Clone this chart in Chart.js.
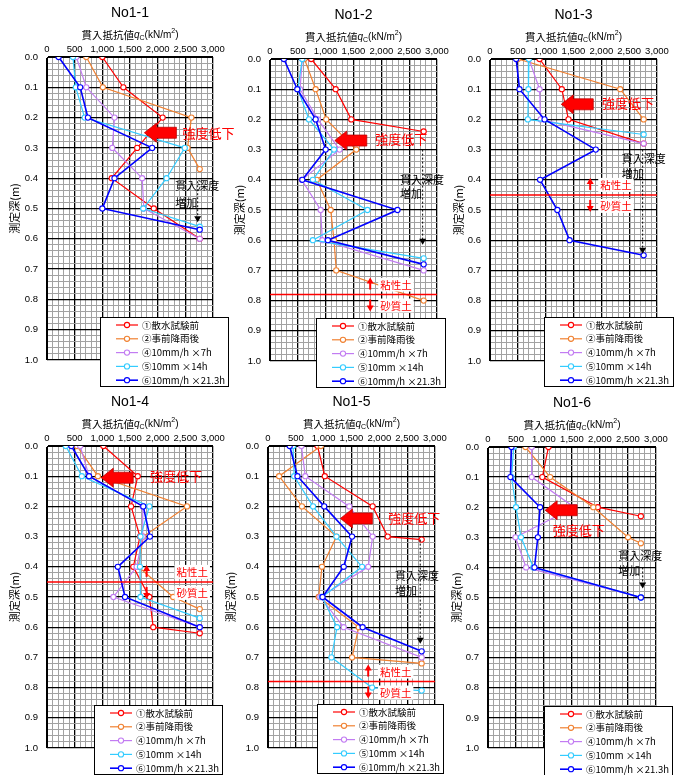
<!DOCTYPE html>
<html>
<head>
<meta charset="utf-8">
<script src="https://cdn.jsdelivr.net/npm/chart.js@4.4.0/dist/chart.umd.min.js"></script>
<style>
body { margin: 0; background: #fff; }
#wrap { position: relative; width: 680px; height: 775px; }
#wrap canvas { position: absolute; left: 0; top: 0; }
</style>
</head>
<body>
<div id="wrap">
<canvas id="c1" width="680" height="775"></canvas>
<canvas id="c2" width="680" height="775"></canvas>
<canvas id="c3" width="680" height="775"></canvas>
<canvas id="c4" width="680" height="775"></canvas>
<canvas id="c5" width="680" height="775"></canvas>
<canvas id="c6" width="680" height="775"></canvas>
</div>
<script>
// series names / colours
var seriesNames = ['①散水試験前', '②事前降雨後', '④10mm/h ×7h', '⑤10mm ×14h', '⑥10mm/h ×21.3h'];
var seriesColors = ['#ff0000', '#f08030', '#c27cf2', '#33ccff', '#0000ff'];

// [depth (m), qc (kN/m2)]
var n11_1 = [[0, 1000], [0.1, 1380], [0.2, 2090], [0.3, 1630], [0.4, 1170], [0.5, 1930], [0.6, 2760]];
var n11_2 = [[0, 710], [0.1, 1010], [0.2, 2610], [0.3, 2540], [0.37, 2760]];
var n11_4 = [[0, 530], [0.1, 710], [0.2, 1220], [0.3, 1180], [0.4, 1720], [0.5, 1750], [0.6, 2760]];
var n11_5 = [[0, 470], [0.1, 520], [0.2, 680], [0.3, 2490], [0.4, 2160], [0.5, 1740], [0.56, 2760]];
var n11_6 = [[0, 210], [0.1, 600], [0.2, 740], [0.3, 1900], [0.4, 1220], [0.5, 1000], [0.57, 2760]];

var n12_1 = [[0, 740], [0.1, 1180], [0.2, 1460], [0.24, 2760]];
var n12_2 = [[0, 620], [0.1, 820], [0.2, 1010], [0.3, 1550], [0.4, 840], [0.5, 1090], [0.6, 1150], [0.7, 1190], [0.8, 2760]];
var n12_4 = [[0, 580], [0.1, 540], [0.2, 860], [0.3, 1250], [0.4, 570], [0.5, 910], [0.6, 940], [0.7, 2760]];
var n12_5 = [[0, 580], [0.1, 500], [0.2, 700], [0.3, 1150], [0.4, 770], [0.5, 1750], [0.6, 770], [0.66, 2760]];
var n12_6 = [[0, 250], [0.1, 490], [0.2, 820], [0.3, 1000], [0.4, 580], [0.5, 2290], [0.6, 1040], [0.68, 2760]];

var n13_1 = [[0, 890], [0.1, 1290], [0.2, 1410], [0.28, 2760]];
var n13_2 = [[0, 500], [0.1, 2340], [0.2, 2760]];
var n13_4 = [[0, 700], [0.1, 890], [0.2, 910], [0.28, 2760]];
var n13_5 = [[0, 700], [0.1, 690], [0.2, 680], [0.25, 2760]];
var n13_6 = [[0, 470], [0.1, 530], [0.2, 980], [0.3, 1900], [0.4, 900], [0.5, 1210], [0.6, 1430], [0.65, 2760]];

var n14_1 = [[0, 1020], [0.1, 1640], [0.2, 1520], [0.3, 1680], [0.4, 1560], [0.5, 1850], [0.6, 1920], [0.62, 2760]];
var n14_2 = [[0, 540], [0.1, 920], [0.2, 2530], [0.3, 1740], [0.4, 1650], [0.5, 2280], [0.54, 2760]];
var n14_4 = [[0, 600], [0.1, 760], [0.2, 1730], [0.3, 1730], [0.4, 1620], [0.5, 1200], [0.6, 2760]];
var n14_5 = [[0, 340], [0.1, 630], [0.2, 1850], [0.3, 1690], [0.4, 1680], [0.5, 1690], [0.57, 2760]];
var n14_6 = [[0, 440], [0.1, 760], [0.2, 1740], [0.3, 1860], [0.4, 1280], [0.5, 1410], [0.6, 2760]];

var n15_1 = [[0, 890], [0.1, 1020], [0.2, 1880], [0.3, 2150], [0.31, 2760]];
var n15_2 = [[0, 950], [0.1, 200], [0.2, 610], [0.3, 1230], [0.4, 970], [0.5, 910], [0.6, 1630], [0.7, 1510], [0.72, 2760]];
var n15_4 = [[0, 600], [0.1, 670], [0.2, 1460], [0.3, 1880], [0.4, 1800], [0.5, 940], [0.6, 1360], [0.7, 2760]];
var n15_5 = [[0, 450], [0.1, 470], [0.2, 810], [0.3, 1230], [0.4, 1690], [0.5, 970], [0.6, 1240], [0.7, 1140], [0.8, 1870], [0.81, 2760]];
var n15_6 = [[0, 390], [0.1, 530], [0.2, 1010], [0.3, 1510], [0.4, 1360], [0.5, 980], [0.6, 1700], [0.68, 2760]];

var n16_1 = [[0, 1080], [0.1, 970], [0.2, 1960], [0.23, 2730]];
var n16_2 = [[0, 670], [0.1, 1110], [0.2, 1880], [0.3, 2500], [0.32, 2730]];
var n16_4 = [[0, 780], [0.1, 780], [0.2, 1540], [0.3, 490], [0.4, 680], [0.5, 2730]];
var n16_5 = [[0, 460], [0.1, 420], [0.2, 500], [0.3, 590], [0.4, 810], [0.5, 2730]];
var n16_6 = [[0, 420], [0.1, 400], [0.2, 930], [0.3, 890], [0.4, 830], [0.5, 2730]];

var FF = '"Liberation Sans", "Noto Sans CJK JP", sans-serif';
var JP = '"Noto Sans CJK JP", sans-serif';
var XH = 14;
var MINOR = '#a2a2a2';

// panel layout: plot rect [left, top, right, bottom], y-axis width, legend [x, y, w, h]
var panels = [
    { id: 'c1', title: 'No1-1', rect: [47, 57, 213, 360], yw: 39, legend: [100, 317, 128, 69], series: [n11_1, n11_2, n11_4, n11_5, n11_6],
      arrow: [1760, 0.25], weak: [2450, 0.25], pen: [2320, 0.425, 0.48], dotted: [2723, 0.41, 0.545], soil: null },
    { id: 'c2', title: 'No1-2', rect: [270, 59, 437, 361], yw: 37, legend: [316, 318, 129, 69], series: [n12_1, n12_2, n12_4, n12_5, n12_6],
      arrow: [1164, 0.27], weak: [1890, 0.265], pen: [2335, 0.40, 0.445], dotted: [2742, 0.30, 0.615], soil: [0.78, 1800, 1980] },
    { id: 'c3', title: 'No1-3', rect: [490, 59, 657, 361], yw: 38, legend: [544, 317, 129, 69], series: [n13_1, n13_2, n13_4, n13_5, n13_6],
      arrow: [1280, 0.15], weak: [2010, 0.145], pen: [2365, 0.33, 0.38], dotted: [2742, 0.30, 0.645], soil: [0.45, 1800, 1980] },
    { id: 'c4', title: 'No1-4', rect: [47, 446, 213, 748], yw: 39, legend: [94, 705, 128, 69], series: [n14_1, n14_2, n14_4, n14_5, n14_6],
      arrow: [980, 0.105], weak: [1860, 0.10], pen: null, dotted: null, soil: [0.45, 1800, 2340] },
    { id: 'c5', title: 'No1-5', rect: [268, 446, 435, 748], yw: 44, legend: [317, 704, 126, 69], series: [n15_1, n15_2, n15_4, n15_5, n15_6],
      arrow: [1300, 0.24], weak: [2160, 0.24], pen: [2280, 0.43, 0.48], dotted: [2735, 0.31, 0.655], soil: [0.78, 1800, 2010] },
    { id: 'c6', title: 'No1-6', rect: [488, 447, 656, 748], yw: 38, legend: [544, 706, 128, 69], series: [n16_1, n16_2, n16_4, n16_5, n16_6],
      arrow: [1020, 0.21], weak: [1155, 0.277], pen: [2327, 0.36, 0.41], dotted: [2762, 0.40, 0.47], soil: null }
];

function drawAxisTitle(ctx, cx, cy) {
    var parts = [
        ['貫入抵抗値', '10.5px ' + JP, 0],
        ['q', 'italic 10px ' + FF, 0],
        ['C', '7px ' + FF, 3],
        ['(kN/m', '10px ' + FF, 0],
        ['2', '7px ' + FF, -4],
        [')', '10px ' + FF, 0]
    ];
    var w = 0;
    parts.forEach(function(p) { ctx.font = p[1]; w += ctx.measureText(p[0]).width; });
    var x = cx - w / 2;
    ctx.textAlign = 'left';
    ctx.textBaseline = 'middle';
    parts.forEach(function(p) {
        ctx.font = p[1];
        ctx.fillText(p[0], x, cy + p[2]);
        x += ctx.measureText(p[0]).width;
    });
}

var notesPlugin = {
    id: 'panelNotes',
    afterDraw: function(chart, args, o) {
        var ctx = chart.ctx, ca = chart.chartArea;
        var X = function(v) { return chart.scales.x.getPixelForValue(v); };
        var Y = function(d) { return chart.scales.y.getPixelForValue(d); };
        ctx.save();
        ctx.fillStyle = '#000';
        ctx.textAlign = 'center';
        ctx.textBaseline = 'middle';
        ctx.font = '14px ' + FF;
        ctx.fillText(o.title, (ca.left + ca.right) / 2, ca.top - 44);
        drawAxisTitle(ctx, (ca.left + ca.right) / 2, ca.top - 22);

        // soil boundary
        if (o.soil) {
            var sy = Y(o.soil[0]), ax = X(o.soil[1]);
            ctx.strokeStyle = '#ff0000';
            ctx.lineWidth = 1.5;
            ctx.beginPath();
            ctx.moveTo(ca.left, sy);
            ctx.lineTo(ca.right, sy);
            ctx.stroke();
            ctx.fillStyle = '#ff0000';
            ctx.lineWidth = 2;
            [-1, 1].forEach(function(s) {
                ctx.beginPath();
                ctx.moveTo(ax, sy + s * 5);
                ctx.lineTo(ax, sy + s * 12);
                ctx.stroke();
                ctx.beginPath();
                ctx.moveTo(ax, sy + s * 17);
                ctx.lineTo(ax - 3.5, sy + s * 11);
                ctx.lineTo(ax + 3.5, sy + s * 11);
                ctx.closePath();
                ctx.fill();
            });
            ctx.font = '10.5px ' + JP;
            ctx.textAlign = 'left';
            var tx = X(o.soil[2]);
            [['粘性土', sy - 10], ['砂質土', sy + 11]].forEach(function(t) {
                var tw = ctx.measureText(t[0]).width;
                ctx.fillStyle = '#fff';
                ctx.fillRect(tx - 2, t[1] - 7, tw + 4, 14);
                ctx.fillStyle = '#ff0000';
                ctx.fillText(t[0], tx, t[1]);
            });
        }

        // strength drop arrow
        var tx0 = X(o.arrow[0]), ty0 = Y(o.arrow[1]);
        ctx.fillStyle = '#ff0000';
        ctx.strokeStyle = '#c00000';
        ctx.lineWidth = 0.8;
        ctx.beginPath();
        ctx.moveTo(tx0, ty0);
        ctx.lineTo(tx0 + 12, ty0 - 9.5);
        ctx.lineTo(tx0 + 12, ty0 - 5.5);
        ctx.lineTo(tx0 + 32, ty0 - 5.5);
        ctx.lineTo(tx0 + 32, ty0 + 5.5);
        ctx.lineTo(tx0 + 12, ty0 + 5.5);
        ctx.lineTo(tx0 + 12, ty0 + 9.5);
        ctx.closePath();
        ctx.fill();
        ctx.stroke();
        ctx.font = '13px ' + JP;
        ctx.textAlign = 'left';
        ctx.fillText('強度低下', X(o.weak[0]), Y(o.weak[1]));

        // penetration depth increase
        if (o.pen) {
            ctx.fillStyle = '#000';
            ctx.font = '11px ' + JP;
            ctx.fillText('貫入深度', X(o.pen[0]), Y(o.pen[1]));
            ctx.fillText('増加', X(o.pen[0]), Y(o.pen[2]));
        }
        if (o.dotted) {
            var dx = X(o.dotted[0]), d0 = Y(o.dotted[1]), d1 = Y(o.dotted[2]);
            ctx.strokeStyle = '#000';
            ctx.lineWidth = 1;
            ctx.setLineDash([2, 2]);
            ctx.beginPath();
            ctx.moveTo(dx, d0);
            ctx.lineTo(dx, d1 - 5);
            ctx.stroke();
            ctx.setLineDash([]);
            ctx.fillStyle = '#000';
            ctx.beginPath();
            ctx.moveTo(dx, d1);
            ctx.lineTo(dx - 3.5, d1 - 6);
            ctx.lineTo(dx + 3.5, d1 - 6);
            ctx.closePath();
            ctx.fill();
        }

        // legend box
        var lg = o.legend;
        ctx.fillStyle = '#fff';
        ctx.fillRect(lg[0], lg[1], lg[2], lg[3]);
        ctx.strokeStyle = '#000';
        ctx.lineWidth = 1;
        ctx.strokeRect(lg[0] + 0.5, lg[1] + 0.5, lg[2], lg[3]);
        ctx.font = '9.5px ' + JP;
        ctx.textAlign = 'left';
        seriesNames.forEach(function(name, i) {
            var ry = lg[1] + 8 + i * 13.8;
            ctx.strokeStyle = seriesColors[i];
            ctx.lineWidth = i === 4 ? 1.6 : 1.2;
            ctx.beginPath();
            ctx.moveTo(lg[0] + 16, ry);
            ctx.lineTo(lg[0] + 38, ry);
            ctx.stroke();
            ctx.fillStyle = '#fff';
            ctx.lineWidth = 1.1;
            ctx.beginPath();
            ctx.arc(lg[0] + 27, ry, 2.6, 0, Math.PI * 2);
            ctx.fill();
            ctx.stroke();
            ctx.fillStyle = '#000';
            ctx.fillText(name, lg[0] + 42, ry, lg[2] - 45);
        });
        ctx.restore();
    }
};

function isMajorX(v) { return Math.round(v) % 500 === 0; }
function isMajorY(v) { return Math.round(v * 100) % 10 === 0; }

panels.forEach(function(p) {
    var r = p.rect;
    new Chart(document.getElementById(p.id), {
        type: 'line',
        data: {
            datasets: p.series.map(function(s, i) {
                return {
                    label: seriesNames[i],
                    data: s.map(function(q) { return { x: q[1], y: q[0] }; }),
                    borderColor: seriesColors[i],
                    pointBorderColor: seriesColors[i],
                    pointBackgroundColor: '#fff',
                    borderWidth: i === 4 ? 1.6 : 1.2,
                    pointRadius: 2.6,
                    pointBorderWidth: 1.1,
                    tension: 0,
                    order: 4 - i
                };
            })
        },
        options: {
            responsive: false,
            animation: false,
            events: [],
            layout: { padding: { left: r[0] - p.yw, top: r[1] - XH, right: 680 - r[2], bottom: 775 - r[3] } },
            plugins: {
                legend: { display: false },
                tooltip: { enabled: false },
                panelNotes: { title: p.title, legend: p.legend, arrow: p.arrow, weak: p.weak, pen: p.pen, dotted: p.dotted, soil: p.soil }
            },
            scales: {
                x: {
                    type: 'linear',
                    position: 'top',
                    min: 0,
                    max: 3000,
                    afterFit: function(s) { s.height = XH; },
                    ticks: {
                        stepSize: 100,
                        autoSkip: false,
                        maxRotation: 0,
                        padding: 2,
                        color: '#000',
                        font: { family: FF, size: 9.5 },
                        callback: function(v) { return isMajorX(v) ? v.toLocaleString('en-US') : ''; }
                    },
                    grid: {
                        drawTicks: false,
                        lineWidth: function(c) { return c.tick && isMajorX(c.tick.value) ? 1.3 : 1; },
                        color: function(c) { return c.tick && isMajorX(c.tick.value) ? '#000' : MINOR; }
                    },
                    border: { color: '#000' }
                },
                y: {
                    type: 'linear',
                    reverse: true,
                    min: 0,
                    max: 1,
                    afterFit: function(s) { s.width = p.yw; },
                    ticks: {
                        stepSize: 0.02,
                        autoSkip: false,
                        padding: 9,
                        color: '#000',
                        font: { family: FF, size: 9.5 },
                        callback: function(v) { return isMajorY(v) ? v.toFixed(1) : ''; }
                    },
                    title: { display: true, text: '測定深(m)', color: '#000', font: { family: JP, size: 11 }, padding: 0 },
                    grid: {
                        drawTicks: false,
                        lineWidth: function(c) { return c.tick && isMajorY(c.tick.value) ? 1.3 : 1; },
                        color: function(c) { return c.tick && isMajorY(c.tick.value) ? '#000' : MINOR; }
                    },
                    border: { color: '#000' }
                }
            }
        },
        plugins: [notesPlugin]
    });
});
</script>
</body>
</html>
